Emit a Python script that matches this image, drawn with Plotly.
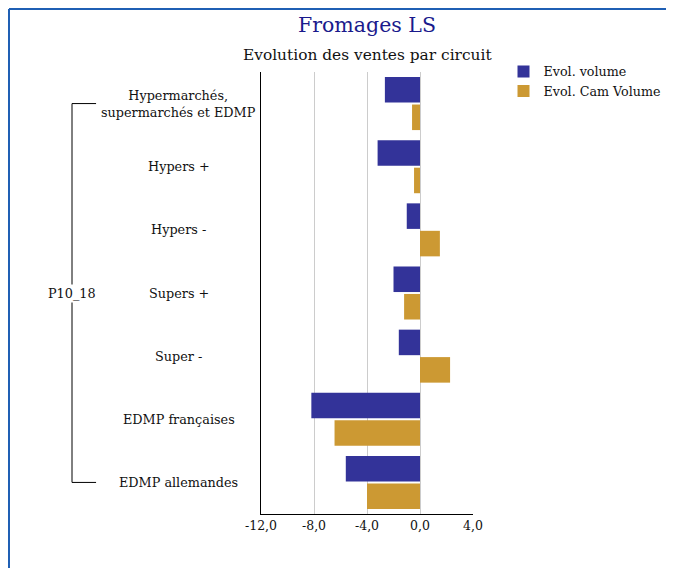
import plotly.graph_objects as go

categories = ["Hypermarchés,<br>supermarchés et EDMP", "Hypers +", "Hypers -",
              "Supers +", "Super -", "EDMP françaises", "EDMP allemandes"]
group_label = "P10_18"
evol_volume = [-2.65, -3.2, -1.0, -2.0, -1.6, -8.2, -5.6]
evol_cam_volume = [-0.6, -0.45, 1.5, -1.2, 2.27, -6.45, -4.0]
x_ticks = [-12, -8, -4, 0, 4]
x_ticktext = [f"{v:.1f}".replace(".", ",") for v in x_ticks]

FONT = "DejaVu Serif"
BLUE = "#333399"
GOLD = "#cc9933"

fig = go.Figure()
fig.add_trace(go.Bar(y=categories, x=evol_volume, orientation="h",
                     name="Evol. volume", marker=dict(color=BLUE, line=dict(width=0))))
fig.add_trace(go.Bar(y=categories, x=evol_cam_volume, orientation="h",
                     name="Evol. Cam Volume", marker=dict(color=GOLD, line=dict(width=0))))

annotations = []
for c in categories:
    annotations.append(dict(x=-0.387, xref="paper", y=c, yref="y", text=c,
                            showarrow=False, xanchor="center", yanchor="middle",
                            font=dict(family=FONT, size=12.8, color="#111111")))
annotations.append(dict(x=-0.8915, xref="paper", y=categories[3], yref="y",
                        text=group_label, showarrow=False, xanchor="center",
                        yanchor="middle", bgcolor="white",
                        font=dict(family=FONT, size=12.8, color="#111111")))
annotations.append(dict(x=0.5, xref="paper", y=1.106, yref="paper", text="Fromages LS",
                        showarrow=False, xanchor="center", yanchor="middle",
                        font=dict(family=FONT, size=20.5, color="#1a1a8c")))
annotations.append(dict(x=0.5, xref="paper", y=1.038, yref="paper",
                        text="Evolution des ventes par circuit",
                        showarrow=False, xanchor="center", yanchor="middle",
                        font=dict(family=FONT, size=15.4, color="#111111")))

shapes = [
    dict(type="line", xref="paper", yref="y", x0=-0.778, x1=-0.8915,
         y0=categories[0], y1=categories[0], line=dict(color="black", width=1)),
    dict(type="line", xref="paper", yref="y", x0=-0.8915, x1=-0.8915,
         y0=categories[0], y1=categories[-1], line=dict(color="black", width=1)),
    dict(type="line", xref="paper", yref="y", x0=-0.8915, x1=-0.778,
         y0=categories[-1], y1=categories[-1], line=dict(color="black", width=1)),
    # outer frame (top and left)
    dict(type="line", xref="paper", yref="paper", x0=-1.1887, x1=2.0, y0=1.1425, y1=1.1425,
         line=dict(color="#1f5fb4", width=2)),
    dict(type="line", xref="paper", yref="paper", x0=-1.1887, x1=-1.1887, y0=1.1425, y1=-0.2,
         line=dict(color="#1f5fb4", width=2)),
]

fig.update_layout(
    width=666, height=560,
    margin=dict(l=253, r=201, t=64, b=54, autoexpand=False),
    paper_bgcolor="white", plot_bgcolor="white",
    barmode="group", bargap=0.13, bargroupgap=0.07,
    font=dict(family=FONT, size=12, color="#111111"),
    showlegend=True,
    legend=dict(xref="container", yref="container", x=0.744, xanchor="left",
                y=0.913, yanchor="top",
                font=dict(family=FONT, size=12.7), itemsizing="constant",
                tracegroupgap=0, bgcolor="rgba(0,0,0,0)"),
    annotations=annotations,
    shapes=shapes,
)
fig.update_xaxes(range=[-12, 4], tickvals=x_ticks, ticktext=x_ticktext,
                 showgrid=True, gridcolor="#cccccc", gridwidth=1.3,
                 zeroline=False, showline=True, linecolor="black", linewidth=1,
                 ticks="", tickfont=dict(family=FONT, size=12.5), fixedrange=True)
fig.update_yaxes(autorange="reversed", showticklabels=False, showgrid=False,
                 showline=True, linecolor="black", linewidth=1, ticks="",
                 zeroline=False)

fig.write_html("out.html")
